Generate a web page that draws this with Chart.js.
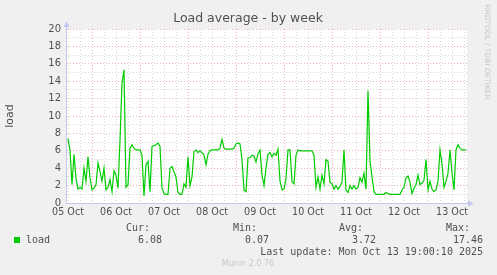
<!DOCTYPE html>
<html>
<head>
<meta charset="utf-8">
<title>Load average - by week</title>
<script src="https://cdn.jsdelivr.net/npm/chart.js@4"></script>
<style>
  html, body { margin: 0; padding: 0; background: #f0f0f0; }
  canvas { display: block; }
</style>
</head>
<body>
<canvas id="loadChart" width="497" height="275"></canvas>
<script>
// ---- data (one sample per hour, hour 0 = 05 Oct label) ----
const dayLabels = ["05 Oct", "06 Oct", "07 Oct", "08 Oct", "09 Oct", "10 Oct", "11 Oct", "12 Oct", "13 Oct"];
const yTickValues = [0, 2, 4, 6, 8, 10, 12, 14, 16, 18, 20];
const load = [
  7.4, 6.1, 2.1, 5.6, 2.8, 1.6, 1.8, 1.6, 4.0, 2.5, 5.3, 2.9,
  1.5, 1.7, 2.1, 4.6, 3.6, 2.5, 4.0, 1.5, 1.8, 2.7, 1.3, 3.7,
  3.2, 1.7, 7.2, 13.8, 15.3, 1.8, 2.1, 6.3, 6.7, 6.3, 6.1, 6.1,
  6.1, 5.5, 0.8, 4.4, 4.8, 1.3, 6.5, 6.6, 6.7, 6.9, 6.5, 1.7,
  1.1, 1.0, 1.0, 4.0, 4.2, 3.6, 3.0, 1.2, 1.0, 1.0, 2.2, 1.8,
  5.3, 2.0, 3.0, 5.9, 6.1, 5.8, 6.0, 5.8, 5.5, 4.4, 5.6, 6.0,
  6.1, 6.1, 6.1, 6.1, 6.3, 7.3, 6.3, 6.2, 6.2, 6.2, 6.2, 6.3,
  6.8, 6.9, 6.8, 5.0, 1.5, 1.3, 5.2, 5.2, 5.5, 5.4, 4.7, 5.7,
  6.1, 3.2, 2.0, 4.0, 5.6, 5.8, 5.3, 5.7, 5.5, 6.2, 2.5, 1.5,
  1.6, 2.8, 6.1, 6.1, 2.5, 2.2, 5.5, 6.1, 6.0, 6.0, 6.0, 6.0,
  6.0, 6.0, 6.0, 5.5, 1.8, 3.0, 1.6, 3.2, 2.2, 5.0, 4.8, 2.4,
  2.2, 1.6, 2.0, 1.6, 1.9, 2.4, 6.1, 1.5, 1.2, 2.0, 1.6, 2.0,
  1.6, 1.8, 2.9, 2.4, 3.4, 1.6, 12.9, 4.8, 3.0, 1.3, 1.0, 1.0,
  1.0, 1.0, 1.0, 1.2, 1.1, 1.0, 1.0, 1.0, 1.0, 1.0, 1.0, 1.5,
  1.8, 2.9, 3.1, 2.4, 1.1, 1.7, 2.1, 3.2, 2.1, 2.3, 2.6, 5.0,
  1.5, 2.5, 1.6, 1.3, 1.5, 2.5, 6.1, 4.5, 1.8, 2.5, 3.4, 6.1,
  3.5, 1.5, 6.1, 6.7, 6.3, 6.1, 6.1, 6.1
];
const legendHeads = ["Cur:", "Min:", "Avg:", "Max:"];
const legendValues = ["6.08", "0.07", "3.72", "17.46"];

const TITLE = "Load average - by week";
const LAST_UPDATE = "Last update: Mon Oct 13 19:00:10 2025";

// ---- style ----
const GREEN = "#00cc00";
const MAJOR_GRID = "rgba(226,150,150,0.7)";
const MINOR_GRID = "rgba(200,200,200,0.75)";
const AXIS_COL = "#c4c8f0";
const TEXT_COL = "#505050";

const munin = {
  id: "munin",
  beforeDraw(chart) {
    const { ctx, chartArea: a } = chart;
    ctx.save();
    ctx.fillStyle = "#f0f0f0";
    ctx.fillRect(0, 0, chart.width, chart.height);
    ctx.fillStyle = "#ffffff";
    ctx.fillRect(a.left, a.top, a.right - a.left, a.bottom - a.top);
    ctx.restore();
  },
  afterDraw(chart) {
    const { ctx, chartArea: a } = chart;
    ctx.save();

    // axes with arrows
    ctx.strokeStyle = AXIS_COL;
    ctx.fillStyle = AXIS_COL;
    ctx.lineWidth = 1;
    ctx.beginPath();
    ctx.moveTo(a.left - 0.5, a.bottom + 0.5);
    ctx.lineTo(a.left - 0.5, a.top - 3);
    ctx.moveTo(a.left - 0.5, a.bottom + 0.5);
    ctx.lineTo(a.right + 3, a.bottom + 0.5);
    ctx.stroke();
    ctx.beginPath();
    ctx.moveTo(a.left - 0.5, a.top - 8);
    ctx.lineTo(a.left - 3.5, a.top - 2);
    ctx.lineTo(a.left + 2.5, a.top - 2);
    ctx.closePath();
    ctx.fill();
    ctx.beginPath();
    ctx.moveTo(a.right + 7, a.bottom + 0.5);
    ctx.lineTo(a.right + 1, a.bottom - 2.5);
    ctx.lineTo(a.right + 1, a.bottom + 3.5);
    ctx.closePath();
    ctx.fill();

    // title
    ctx.fillStyle = TEXT_COL;
    ctx.textAlign = "center";
    ctx.textBaseline = "middle";
    ctx.font = "12.5px 'DejaVu Sans'";
    ctx.fillText(TITLE, 248, 19);

    // y axis title
    ctx.save();
    ctx.translate(10, 116);
    ctx.rotate(-Math.PI / 2);
    ctx.font = "11px 'DejaVu Sans'";
    ctx.fillText("load", 0, 0);
    ctx.restore();

    // side credit
    ctx.save();
    ctx.translate(487, 52);
    ctx.rotate(Math.PI / 2);
    ctx.fillStyle = "#c8c8c8";
    ctx.font = "7.4px 'DejaVu Sans'";
    ctx.fillText("RRDTOOL / TOBI OETIKER", 0, 0);
    ctx.restore();

    // legend
    ctx.font = "10px 'DejaVu Sans Mono'";
    ctx.fillStyle = TEXT_COL;
    ctx.textAlign = "right";
    const headRight = [150, 257, 363, 470];
    const valRight = [162, 269, 376, 483];
    legendHeads.forEach((h, i) => ctx.fillText(h, headRight[i], 228));
    legendValues.forEach((v, i) => ctx.fillText(v, valRight[i], 240));
    ctx.fillText(LAST_UPDATE, 483, 252);
    ctx.textAlign = "left";
    ctx.fillText("load", 26, 240);
    ctx.fillStyle = GREEN;
    ctx.fillRect(14, 237, 6, 6);

    ctx.fillStyle = "#c8c8c8";
    ctx.textAlign = "center";
    ctx.font = "8px 'DejaVu Sans'";
    ctx.fillText("Munin 2.0.76", 248, 264);
    ctx.restore();
  }
};

new Chart(document.getElementById("loadChart"), {
  type: "line",
  data: {
    datasets: [{
      label: "load",
      data: load.map((v, i) => ({ x: i, y: v })),
      borderColor: GREEN,
      borderWidth: 1.2,
      pointRadius: 0,
      tension: 0,
      fill: false
    }]
  },
  options: {
    responsive: false,
    devicePixelRatio: 1,
    animation: false,
    events: [],
    layout: { padding: { left: 0, right: 30, top: 29, bottom: 0 } },
    plugins: { legend: { display: false }, tooltip: { enabled: false } },
    scales: {
      x: {
        type: "linear",
        min: -0.5,
        max: 199.5,
        afterFit: s => { s.height = 72; },
        afterBuildTicks: s => {
          const t = [];
          for (let h = 0; h <= 198; h += 6) t.push({ value: h });
          s.ticks = t;
        },
        ticks: {
          autoSkip: false,
          maxRotation: 0,
          padding: 4,
          color: TEXT_COL,
          font: { family: "'DejaVu Sans'", size: 9.6 },
          callback: v => (v % 24 === 0 ? dayLabels[v / 24] : "")
        },
        grid: {
          drawTicks: false,
          lineWidth: 1,
          color: c => (c.tick && c.tick.value % 24 === 12 ? MAJOR_GRID : MINOR_GRID)
        },
        border: { display: false, dash: [1, 2] }
      },
      y: {
        min: 0,
        max: 20,
        afterFit: s => { s.width = 67; },
        afterBuildTicks: s => {
          const t = [];
          for (let v = 0; v <= 20; v++) t.push({ value: v });
          s.ticks = t;
        },
        ticks: {
          autoSkip: false,
          padding: 6,
          color: TEXT_COL,
          font: { family: "'DejaVu Sans'", size: 10 },
          callback: v => (yTickValues.includes(v) ? String(v) : "")
        },
        grid: {
          drawTicks: false,
          lineWidth: 1,
          color: c => (c.tick && c.tick.value % 2 === 0 ? MAJOR_GRID : MINOR_GRID)
        },
        border: { display: false, dash: [1, 2] }
      }
    }
  },
  plugins: [munin]
});
</script>
</body>
</html>
